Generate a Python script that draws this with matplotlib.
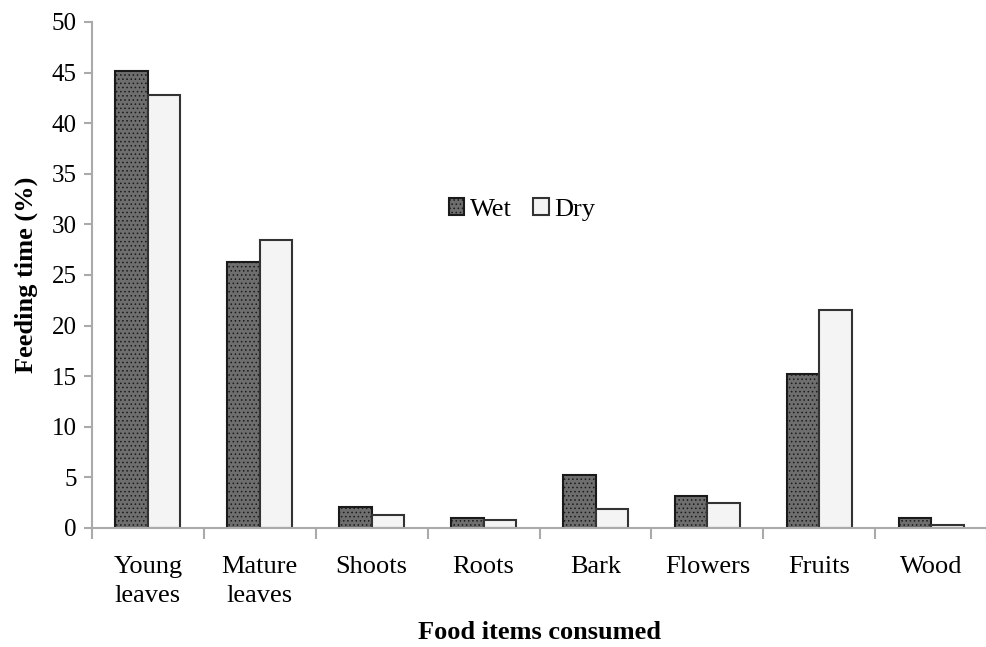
import numpy as np
import matplotlib.pyplot as plt

plt.rcParams['font.family'] = ['Liberation Serif', 'DejaVu Serif']
plt.rcParams['hatch.linewidth'] = 0.6

categories = ['Young\nleaves', 'Mature\nleaves', 'Shoots', 'Roots', 'Bark', 'Flowers', 'Fruits', 'Wood']
wet = [45.2, 26.3, 2.1, 1.0, 5.2, 3.2, 15.2, 1.0]
dry = [42.8, 28.5, 1.3, 0.8, 1.9, 2.5, 21.5, 0.3]

fig = plt.figure(figsize=(9.87, 6.47), dpi=100)
ax = fig.add_axes([0.0932, 0.184, 0.907, 0.782])

x = np.arange(len(categories))
w = 0.29
ax.bar(x - w / 2, wet, w, facecolor='#6e6e6e', edgecolor='#1a1a1a', hatch='....',
       linewidth=1.5, label='Wet')
ax.bar(x + w / 2, dry, w, facecolor='#f4f4f4', edgecolor='#333333',
       linewidth=1.5, label='Dry')

ax.set_xlim(-0.5, len(categories) - 0.5)
ax.set_ylim(0, 50)
ax.set_yticks(np.arange(0, 51, 5))
ax.set_xticks(x)
ax.set_xticklabels(categories, fontsize=19, linespacing=1.45)
ax.set_xticks(np.arange(-0.5, len(categories) - 0.4, 1), minor=True)
ax.tick_params(axis='x', which='major', length=0, pad=20)
ax.tick_params(axis='x', which='minor', length=8, color='#aaaaaa', width=1.5, direction='out')
ax.tick_params(axis='y', length=6, color='#aaaaaa', width=1.5, labelsize=18, pad=5)

for s in ['top', 'right']:
    ax.spines[s].set_visible(False)
for s in ['left', 'bottom']:
    ax.spines[s].set_color('#aaaaaa')
    ax.spines[s].set_linewidth(1.5)

ax.set_ylabel('Feeding time (%)', fontsize=19, fontweight='bold', labelpad=10)
ax.set_xlabel('Food items consumed', fontsize=19, fontweight='bold', labelpad=10)

ax.legend(loc='center', bbox_to_anchor=(0.48, 0.63), ncol=2, frameon=False, fontsize=19,
          handlelength=0.6, handleheight=0.6, handletextpad=0.2, columnspacing=0.8)

fig.savefig('out.png', dpi=100)
